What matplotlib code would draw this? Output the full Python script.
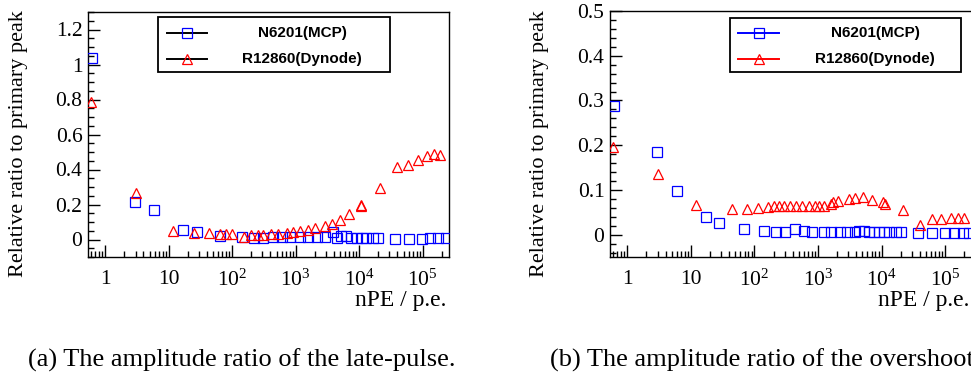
import numpy as np
import matplotlib
matplotlib.use("Agg")
import matplotlib.pyplot as plt
from matplotlib.ticker import LogLocator, MultipleLocator, FuncFormatter, NullFormatter
from matplotlib.lines import Line2D
from matplotlib.patches import Rectangle

plt.rcParams["font.family"] = ["Liberation Serif", "DejaVu Serif"]
plt.rcParams["mathtext.fontset"] = "custom"
plt.rcParams["mathtext.rm"] = "Liberation Serif"
plt.rcParams["mathtext.it"] = "Liberation Serif:italic"

# --- Data ---
# (a) late-pulse amplitude ratio
late_mcp_x = [0.62, 2.9, 5.9, 16.9, 28, 65, 144, 219, 308, 445, 600, 810, 1170, 1590, 2130,
              2880, 3880, 4480, 5250, 6290, 7560, 9100, 11000, 13000, 16700, 20000, 36600,
              61000, 96000, 132000, 174000, 230000]
late_mcp_y = [1.04, 0.215, 0.166, 0.057, 0.044, 0.021, 0.015, 0.011, 0.011, 0.013, 0.015, 0.015,
              0.017, 0.017, 0.017, 0.017, 0.042, 0.011, 0.021, 0.021, 0.011, 0.010, 0.010, 0.008,
              0.008, 0.006, 0.004, 0.004, 0.004, 0.006, 0.008, 0.010]
late_dyn_x = [0.59, 3.0, 11.8, 25, 43, 65, 81, 100, 152, 201, 257, 308, 415, 530, 720, 920,
              1170, 1590, 2000, 2880, 3800, 4980, 6990, 10500, 10800, 21200, 38800, 59000,
              85000, 118000, 150000, 191000]
late_dyn_y = [0.787, 0.265, 0.046, 0.036, 0.036, 0.034, 0.034, 0.034, 0.017, 0.023, 0.027, 0.027,
              0.029, 0.032, 0.036, 0.042, 0.046, 0.055, 0.065, 0.078, 0.091, 0.112, 0.145, 0.19,
              0.2, 0.293, 0.413, 0.427, 0.457, 0.478, 0.486, 0.482]

# (b) overshoot amplitude ratio
over_mcp_x = [0.62, 2.93, 5.98, 17.1, 27.8, 68, 144, 219, 305, 437, 600, 813, 1240, 1580, 2220,
              2890, 3890, 4380, 5270, 6300, 7580, 9100, 10900, 13100, 16700, 20500, 37300,
              63000, 100000, 139000, 188000, 240000]
over_mcp_y = [0.287, 0.184, 0.0985, 0.039, 0.027, 0.012, 0.0075, 0.006, 0.006, 0.012, 0.009, 0.007,
              0.005, 0.005, 0.005, 0.005, 0.005, 0.009, 0.008, 0.007, 0.007, 0.007, 0.007, 0.006,
              0.006, 0.006, 0.0045, 0.0045, 0.0045, 0.0045, 0.0045, 0.0045]
over_dyn_x = [0.59, 3.04, 12.1, 44, 77, 113, 162, 203, 247, 297, 360, 443, 565, 720, 886, 1030,
              1240, 1580, 1740, 2090, 3070, 3890, 5150, 7200, 10700, 11200, 21800, 40500, 62000,
              87000, 123000, 160000, 199000]
over_dyn_y = [0.197, 0.135, 0.066, 0.058, 0.058, 0.059, 0.061, 0.063, 0.063, 0.063, 0.063, 0.063,
              0.063, 0.063, 0.063, 0.063, 0.065, 0.069, 0.072, 0.075, 0.080, 0.083, 0.084, 0.077,
              0.073, 0.069, 0.054, 0.022, 0.034, 0.036, 0.037, 0.037, 0.037]

labels = ["N6201(MCP)", "R12860(Dynode)"]
captions = ["(a) The amplitude ratio of the late-pulse.",
            "(b) The amplitude ratio of the overshoot."]

BLUE = "#0000ff"
RED = "#ff0000"


def decade_label(v, pos):
    n = int(round(np.log10(v)))
    if n == 0:
        return "1"
    if n == 1:
        return "10"
    return r"$10^{%d}$" % n


def style_axes(ax, ymin, ymax, ymajor, yminor):
    ax.set_xscale("log")
    ax.set_xlim(0.535, 2.6e5)
    ax.set_ylim(ymin, ymax)
    ax.xaxis.set_major_locator(LogLocator(base=10, numticks=10))
    ax.xaxis.set_minor_locator(LogLocator(base=10, subs=np.arange(2, 10), numticks=20))
    ax.xaxis.set_major_formatter(FuncFormatter(decade_label))
    ax.xaxis.set_minor_formatter(NullFormatter())
    ax.yaxis.set_major_locator(MultipleLocator(ymajor))
    ax.yaxis.set_minor_locator(MultipleLocator(yminor))
    ax.yaxis.set_major_formatter(FuncFormatter(lambda v, p: "%g" % round(v, 3)))
    ax.tick_params(which="both", direction="in", width=1.0, labelsize=15.5)
    ax.tick_params(which="major", length=8.5)
    ax.tick_params(which="minor", length=4.3)
    ax.tick_params(axis="x", which="major", pad=9)
    ax.tick_params(axis="y", which="major", pad=4)
    for s in ax.spines.values():
        s.set_linewidth(1.0)


def draw_legend(ax, box, line_x, text_x, rows_y, line_colors):
    x0, x1, y0, y1 = box
    ax.add_patch(Rectangle((x0, y0), x1 - x0, y1 - y0, transform=ax.transAxes,
                           fill=False, edgecolor="black", linewidth=1.3, clip_on=False, zorder=5))
    markers = ["s", "^"]
    mcolors = [BLUE, RED]
    for i, lab in enumerate(labels):
        ry = rows_y[i]
        ax.add_line(Line2D([line_x[0], line_x[1]], [ry, ry], transform=ax.transAxes,
                           color=line_colors[i], linewidth=1.4, zorder=6, clip_on=False))
        ax.add_line(Line2D([(line_x[0] + line_x[1]) / 2], [ry], transform=ax.transAxes,
                           marker=markers[i], markersize=7, markerfacecolor="none",
                           markeredgecolor=mcolors[i], markeredgewidth=0.9, linestyle="none",
                           zorder=7, clip_on=False))
        ax.text(text_x, ry, lab, transform=ax.transAxes, ha="center", va="center",
                fontsize=11, fontweight="bold", family="Liberation Sans", zorder=7)


# --- Figure ---
W, H = 971, 376
fig = plt.figure(figsize=(W / 100, H / 100), dpi=100)

ax1 = fig.add_axes([88 / W, 1 - 257 / H, 361 / W, 245 / H])
ax2 = fig.add_axes([610 / W, 1 - 257 / H, 361.5 / W, 246 / H])

mk = dict(linestyle="none", markerfacecolor="none", markersize=6.8, markeredgewidth=0.9, zorder=3)

ax1.plot(late_mcp_x, late_mcp_y, marker="s", markeredgecolor=BLUE, **mk)
ax1.plot(late_dyn_x, late_dyn_y, marker="^", markeredgecolor=RED, **mk)
style_axes(ax1, -0.1, 1.3, 0.2, 0.05)

ax2.plot(over_mcp_x, over_mcp_y, marker="s", markeredgecolor=BLUE, **mk)
ax2.plot(over_dyn_x, over_dyn_y, marker="^", markeredgecolor=RED, **mk)
style_axes(ax2, -0.05, 0.5, 0.1, 0.02)

draw_legend(ax1, (0.194, 0.837, 0.755, 0.980), (0.219, 0.330), 0.593, (0.914, 0.808),
            ["black", "black"])
draw_legend(ax2, (0.332, 0.972, 0.752, 0.972), (0.355, 0.468), 0.734, (0.911, 0.805),
            [BLUE, RED])

# --- Axis titles ---
for ax, lx in [(ax1, 19), (ax2, 539)]:
    fig.text(lx / W, 1 - 144 / H, "Relative ratio to primary peak", rotation=90,
             ha="center", va="center", fontsize=16)
    ax.text(0.994, -0.2, "nPE / p.e.", transform=ax.transAxes, ha="right", va="baseline",
            fontsize=17)

# --- Captions (the second one runs off the right edge, as in the original crop) ---
fig.text(28 / W, 1 - 367 / H, captions[0], ha="left", va="baseline", fontsize=19)
fig.text(550 / W, 1 - 367 / H, captions[1], ha="left", va="baseline", fontsize=19)

fig.savefig("out.png", dpi=100)
